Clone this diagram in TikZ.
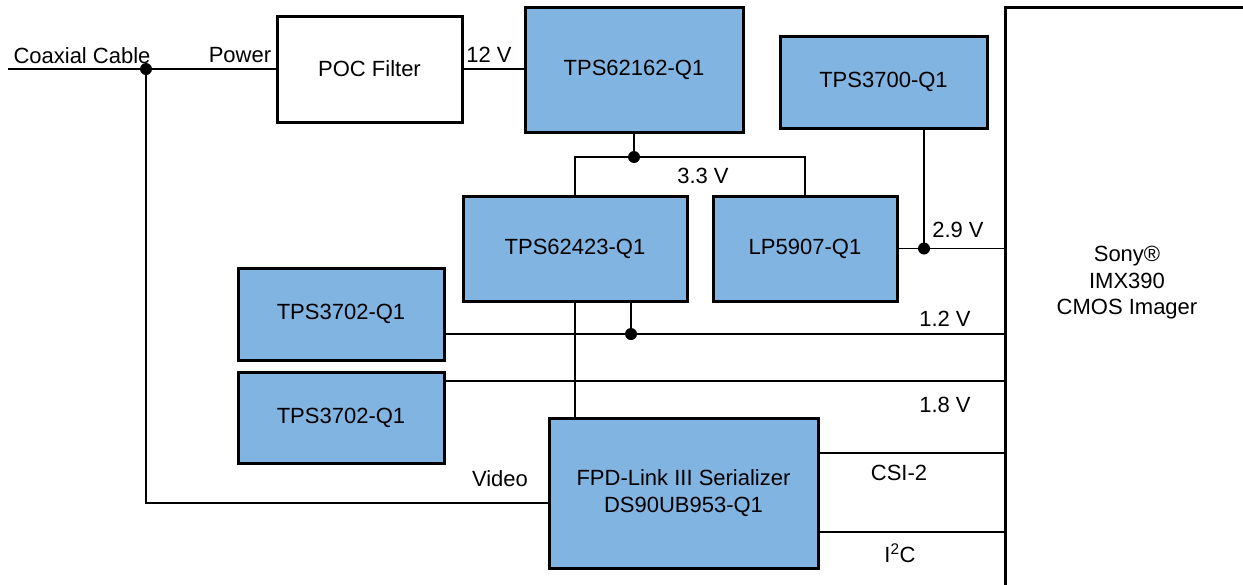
\documentclass[tikz,border=0pt]{standalone}
\usepackage{fontspec}
\setmainfont{Liberation Sans}
\definecolor{tiblue}{RGB}{130,180,226}
\begin{document}
\begin{tikzpicture}[x=1pt,y=-1pt,
  font=\fontsize{22}{27}\selectfont,
  blk/.style={draw=black, line width=3pt, fill=tiblue, inner sep=0pt, align=center},
  wblk/.style={blk, fill=white},
  wire/.style={line width=1.5pt},
  lbl/.style={inner sep=0pt, anchor=center},
  dot/.style={circle, fill=black, inner sep=0pt, minimum size=12pt}]
\useasboundingbox (0,0) rectangle (1243,584);
% blocks
\node[wblk, minimum width=185pt, minimum height=106pt] (poc) at (369.5,69) {POC Filter};
\node[blk, minimum width=218pt, minimum height=125pt] (buck) at (634,69.5) {TPS62162-Q1};
\node[blk, minimum width=207pt, minimum height=92pt] (sv) at (883.5,82) {TPS3700-Q1};
\node[blk, minimum width=224pt, minimum height=105pt] (dual) at (575,248.5) {TPS62423-Q1};
\node[blk, minimum width=184pt, minimum height=105pt] (ldo) at (805,248.5) {LP5907-Q1};
\node[blk, minimum width=206pt, minimum height=92pt] (sva) at (341,314) {TPS3702-Q1};
\node[blk, minimum width=206pt, minimum height=91pt] (svb) at (341,417.5) {TPS3702-Q1};
\node[blk, minimum width=269pt, minimum height=150pt] (ser) at (683.5,493) {FPD-Link III Serializer\\DS90UB953-Q1};
% imager (runs off the page)
\draw[line width=3pt] (1260,7) -- (1005,7) -- (1005,600);
\coordinate (sonyw) at (1005,0);
\node[lbl, align=center, font=\fontsize{22}{26.5}\selectfont] (sony) at (1127,283) {Sony®\\IMX390\\CMOS Imager};
% junctions
\coordinate (cin) at (8,69);
\node[dot] (j1) at (146,69) {};
\coordinate (jv) at (146,503);
\node[dot] (j33) at (634,157) {};
\node[dot] (j29) at (924,248.5) {};
\node[dot] (j12) at (631,334) {};
\coordinate (y18) at (0,381);
\coordinate (ycsi) at (0,453);
\coordinate (yi2c) at (0,532);
% wires
\draw[wire] (cin) -- (poc.west);
\draw[wire] (poc.east) -- (buck.west |- poc.east);
\draw[wire] (j1.center) -- (jv) -- (jv -| ser.west);
\draw[wire] (buck.south) -- (j33.center);
\draw[wire] (dual.north) |- (j33.center) -| (ldo.north);
\draw[wire] (j29 |- sv.south) -- (j29.center);
\draw[wire] (ldo.east) -- (ldo.east -| sonyw);
\draw[wire] (sva.east |- j12) -- (j12 -| sonyw);
\draw[wire] (j12 |- dual.south) -- (j12.center);
\draw[wire] (dual.south) -- (dual.south |- ser.north);
\draw[wire] (svb.east |- y18) -- (y18 -| sonyw);
\draw[wire] (ser.east |- ycsi) -- (ycsi -| sonyw);
\draw[wire] (ser.east |- yi2c) -- (yi2c -| sonyw);
% labels
\node[lbl] (lcoax) at (82,56) {Coaxial Cable};
\node[lbl] (lpow) at (240,55) {Power};
\node[lbl] (l12) at (489,55) {12 V};
\node[lbl] (l33) at (703,176) {3.3 V};
\node[lbl] (l29) at (958,230) {2.9 V};
\node[lbl] (l12v) at (945,319) {1.2 V};
\node[lbl] (l18) at (945,405) {1.8 V};
\node[lbl] (lcsi) at (899,473) {CSI-2};
\node[lbl] (li2c) at (900,553) {I\textsuperscript{2}C};
\node[lbl] (lvid) at (500,479) {Video};
\end{tikzpicture}
\end{document}
